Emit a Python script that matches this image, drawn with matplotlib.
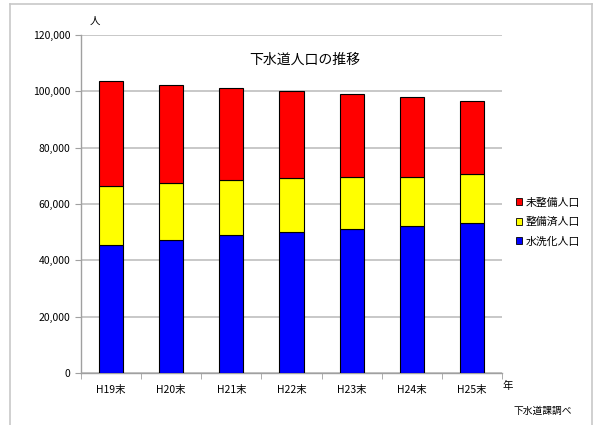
import numpy as np
import matplotlib
matplotlib.use('Agg')
import matplotlib.pyplot as plt
from matplotlib.lines import Line2D
from matplotlib.patches import Patch

plt.rcParams['font.family'] = ['Noto Sans CJK JP', 'DejaVu Sans']

years = ['H19末', 'H20末', 'H21末', 'H22末', 'H23末', 'H24末', 'H25末']
suisenka = [45400, 47200, 49000, 50200, 51200, 52200, 53300]   # 水洗化人口
seibizumi = [21000, 20250, 19500, 18900, 18400, 17500, 17300]  # 整備済人口
miseibi = [37150, 34650, 32550, 31000, 29450, 28150, 25850]    # 未整備人口

fig = plt.figure(figsize=(5.96, 4.25), dpi=100)
ax = fig.add_axes([0.1359, 0.1224, 0.7064, 0.7953])

x = np.arange(len(years))
w = 0.4
b1 = np.array(suisenka)
b2 = b1 + np.array(seibizumi)
ax.bar(x, suisenka, w, color='#0000ff', edgecolor='black', linewidth=0.8, zorder=3)
ax.bar(x, seibizumi, w, bottom=b1, color='#ffff00', edgecolor='black', linewidth=0.8, zorder=3)
ax.bar(x, miseibi, w, bottom=b2, color='#ff0000', edgecolor='black', linewidth=0.8, zorder=3)

ax.set_xlim(-0.5, len(years) - 0.5)
ax.set_ylim(0, 120000)
ax.set_yticks(np.arange(0, 120001, 20000))
ax.set_yticklabels(['{:,}'.format(v) for v in range(0, 120001, 20000)], fontsize=7.5)
ax.yaxis.grid(True, color='#c4c4c4', linewidth=1.3, zorder=0)
ax.set_xticks(x)
ax.set_xticklabels(years, fontsize=7.5)
ax.set_xticks(np.arange(-0.5, len(years)), minor=True)
ax.tick_params(axis='x', which='major', length=0, pad=9)
ax.tick_params(axis='x', which='minor', length=4, color='#a0a0a0')
ax.tick_params(axis='y', length=4.5, color='#a0a0a0', pad=3)
for s in ['top', 'right']:
    ax.spines[s].set_visible(False)
for s in ['left', 'bottom']:
    ax.spines[s].set_color('#a0a0a0')
    ax.spines[s].set_linewidth(1.0)

fig.text(305 / 596, 1 - 60 / 425, '下水道人口の推移', fontsize=10, ha='center', va='center')
fig.text(95 / 596, 1 - 21 / 425, '人', fontsize=7.5, ha='center', va='center')
fig.text(508 / 596, 1 - 386 / 425, '年', fontsize=7.5, ha='center', va='center')
fig.text(514 / 596, 1 - 411 / 425, '下水道課調べ', fontsize=7, ha='left', va='center')

handles = [Patch(facecolor='#ff0000', edgecolor='black', linewidth=0.6),
           Patch(facecolor='#ffff00', edgecolor='black', linewidth=0.6),
           Patch(facecolor='#0000ff', edgecolor='black', linewidth=0.6)]
fig.legend(handles, ['未整備人口', '整備済人口', '水洗化人口'], loc='center left',
           bbox_to_anchor=(506 / 596, 1 - 222 / 425), frameon=False, fontsize=7.8,
           handlelength=0.6, handleheight=0.6, handletextpad=0.3, labelspacing=0.85)

# chart frame
fc = '#c8c8c8'
fig.add_artist(Line2D([10 / 596, 592 / 596], [1 - 4 / 425, 1 - 4 / 425], color=fc, lw=1.2))
fig.add_artist(Line2D([10 / 596, 10 / 596], [0, 1 - 4 / 425], color=fc, lw=1.2))
fig.add_artist(Line2D([592 / 596, 592 / 596], [0, 1 - 4 / 425], color=fc, lw=1.2))

fig.savefig('out.png', dpi=100)
